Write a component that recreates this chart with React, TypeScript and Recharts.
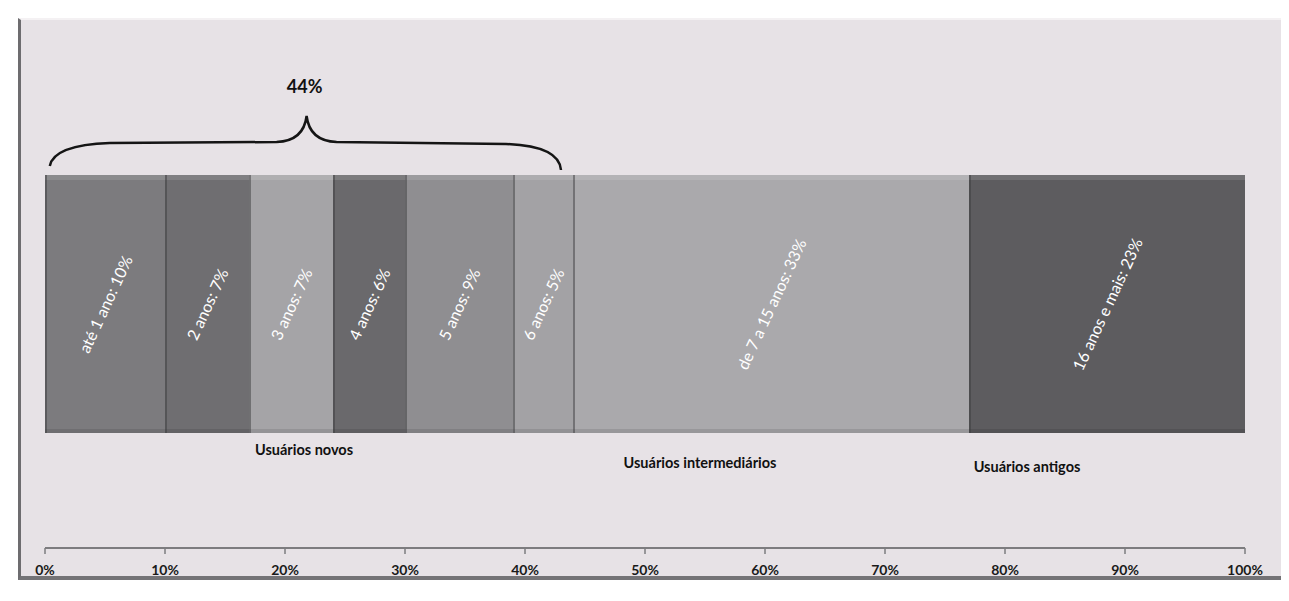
import { BarChart, Bar, XAxis, YAxis, LabelList, Customized } from "recharts";

// tenure groups and their share of users (%)
const categories = [
  "até 1 ano",
  "2 anos",
  "3 anos",
  "4 anos",
  "5 anos",
  "6 anos",
  "de 7 a 15 anos",
  "16 anos e mais",
];
const shares = [10, 7, 7, 6, 9, 5, 33, 23];
const segmentColors = [
  "#7c7b7e",
  "#6f6e71",
  "#a5a4a7",
  "#6a696c",
  "#8f8e91",
  "#a3a2a5",
  "#aaa9ac",
  "#5d5c5f",
];
const xTicks = [0, 10, 20, 30, 40, 50, 60, 70, 80, 90, 100];
const groupLabels = ["Usuários novos", "Usuários intermediários", "Usuários antigos"];
const newUserCount = 6; // first six segments form the "novos" group

const row: Record<string, string | number> = { name: "usuarios" };
shares.forEach((v, i) => {
  row[`s${i}`] = v;
});
const data = [row];

const W = 1281;
const H = 593;
const M = { top: 167, right: 44, bottom: 13, left: 37 };
const plotW = W - M.left - M.right;
const xOf = (v: number) => M.left + (v / 100) * plotW;

const FONT = "Lato, 'Open Sans', sans-serif";

const BevelBar = (props: any) => {
  const { x, y, width, height, fill } = props;
  if (!width || !height) return null;
  return (
    <g>
      <rect x={x} y={y} width={width} height={height} fill={fill} />
      <rect x={x} y={y} width={width} height={5} fill="#ffffff" opacity={0.12} />
      <rect x={x} y={y + height - 4} width={width} height={4} fill="#000" opacity={0.1} />
      <rect x={x} y={y} width={2} height={height} fill="#3c3b3e" opacity={0.5} />
    </g>
  );
};

const segmentLabel = (i: number) => (props: any) => {
  const { x, y, width, height, value } = props;
  const cx = x + width / 2;
  const cy = y + height / 2;
  return (
    <text
      x={cx}
      y={cy}
      transform={`rotate(-65 ${cx} ${cy})`}
      textAnchor="middle"
      dominantBaseline="central"
      fill="#ffffff"
      fontFamily={FONT}
      fontSize={16}
    >
      {`${categories[i]}: ${value}%`}
    </text>
  );
};

const Annotations = () => {
  const newTotal = shares.slice(0, newUserCount).reduce((a, b) => a + b, 0);
  const a = xOf(0.4);
  const b = xOf(43);
  const m = xOf(21.8);
  const brace = `M ${a} 158 Q ${a + 4} 137 ${a + 60} 135 L ${m - 30} 134 Q ${m - 3} 133 ${m} 108 Q ${m + 3} 133 ${m + 30} 134 L ${b - 55} 136 Q ${b - 2} 138 ${b} 162`;
  return (
    <g fontFamily={FONT} fontWeight={700}>
      <path d={brace} fill="none" stroke="#151515" strokeWidth={2.5} />
      <text x={m - 2} y={85} textAnchor="middle" fontSize={18} fill="#111">
        {`${newTotal}%`}
      </text>
      <text x={296} y={447} textAnchor="middle" fontSize={14.5} fill="#111">
        {groupLabels[0]}
      </text>
      <text x={692} y={460} textAnchor="middle" fontSize={14.5} fill="#111">
        {groupLabels[1]}
      </text>
      <text x={1019} y={464} textAnchor="middle" fontSize={14.5} fill="#111">
        {groupLabels[2]}
      </text>
    </g>
  );
};

export default function App() {
  return (
    <div style={{ position: "relative", width: W, height: H }}>
      <div
        style={{
          position: "absolute",
          left: 10,
          top: 10,
          width: 1262,
          height: 556,
          background: "#e7e2e6",
          borderTop: "2px solid #f4f1f3",
          borderLeft: "3px solid #6d6c6f",
          borderRight: "3px solid #4f4e51",
          borderBottom: "4px solid #747376",
        }}
      />
      <div style={{ position: "absolute", left: 0, top: 0 }}>
        <BarChart
          width={W}
          height={H}
          data={data}
          layout="vertical"
          margin={M}
          barCategoryGap={0}
        >
          <XAxis
            type="number"
            domain={[0, 100]}
            ticks={xTicks}
            tickFormatter={(v: number) => `${v}%`}
            axisLine={{ stroke: "#7d7c7f", strokeWidth: 2 }}
            tickLine={{ stroke: "#7d7c7f", strokeWidth: 1.5 }}
            tickSize={6}
            height={40}
            interval={0}
            tick={{ fill: "#1a1a1a", fontFamily: FONT, fontWeight: 700, fontSize: 14, dy: 9 }}
          />
          <YAxis type="category" dataKey="name" hide padding={{ top: 0, bottom: 115 }} />
          {shares.map((_, i) => (
            <Bar
              key={i}
              dataKey={`s${i}`}
              stackId="a"
              fill={segmentColors[i]}
              shape={BevelBar}
              isAnimationActive={false}
            >
              <LabelList dataKey={`s${i}`} content={segmentLabel(i)} />
            </Bar>
          ))}
          <Customized component={<Annotations />} />
        </BarChart>
      </div>
    </div>
  );
}
